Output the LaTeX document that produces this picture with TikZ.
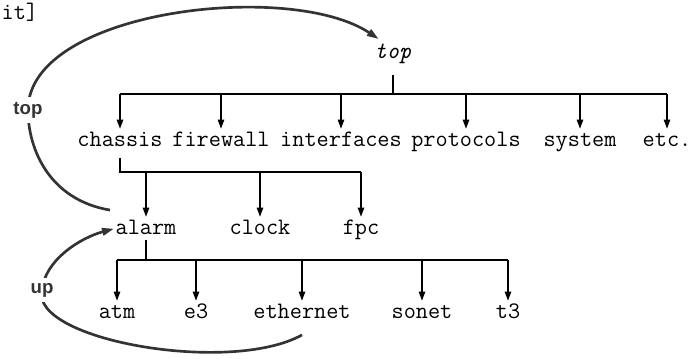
\documentclass[tikz,border=0pt]{standalone}
\usepackage{fontspec}
\setsansfont{Liberation Sans}
\usetikzlibrary{calc}
\usetikzlibrary{arrows.meta}
\newcommand{\codefont}{\ttfamily\fontsize{17.7}{20}\selectfont}
\tikzset{
    mono/.style={font=\codefont, inner sep=1pt, anchor=base, text height=11.5pt, text depth=3.5pt},
    lbl/.style={font=\sffamily\bfseries\fontsize{14}{16}\selectfont, fill=white, inner sep=4pt},
    bar/.style={line width=2.2pt, line join=miter},
    arr/.style={line width=1.6pt, -{Triangle[length=7pt,width=4.5pt]}},
    jump/.style={line width=2pt, black!80, -{Triangle[length=9pt,width=5.5pt]}}
}

\begin{document}
\begin{tikzpicture}[x=0.75pt,y=-0.75pt]
        \useasboundingbox (0,0) rectangle (693,358);
        \node[mono, anchor=base west] (cut) at (0,19) {it]};
        \node[mono, font=\codefont\itshape] (root) at (393,58) {top};
        %first level
        \node[mono] (chassis) at (120,146) {chassis};
        \node[mono] (firewall) at (221,146) {firewall};
        \node[mono] (interfaces) at (341,146) {interfaces};
        \node[mono] (protocols) at (466,146) {protocols};
        \node[mono] (system) at (580,146) {system};
        \node[mono] (etc) at (667,146) {etc.};
        %chassis
        \node[mono] (alarm) at (146,234) {alarm};
        \node[mono] (clock) at (260,234) {clock};
        \node[mono] (fpc) at (361,234) {fpc};
        %alarm
        \node[mono] (atm) at (117,318) {atm};
        \node[mono] (e3) at (196,318) {e3};
        \node[mono] (ethernet) at (302,318) {ethernet};
        \node[mono] (sonet) at (422,318) {sonet};
        \node[mono] (t3) at (508,318) {t3};

        \coordinate (b1) at (0,94);
        \coordinate (b2) at (0,172);
        \coordinate (b3) at (0,260);
        \draw[bar] ([yshift=-8pt]root.south) -- (root.south |- b1);
        \draw[bar] (chassis.north |- b1) -- (etc.north |- b1);
        \foreach \child in {chassis,firewall,interfaces,protocols,system,etc}
            \draw[arr] (\child.north |- b1) -- (\child.north);
        \draw[bar] ([yshift=-4pt]chassis.south) -- (chassis.south |- b2) -- (fpc.north |- b2);
        \foreach \child in {alarm,clock,fpc}
            \draw[arr] (\child.north |- b2) -- (\child.north);
        \draw[bar] (alarm.south) -- (alarm.south |- b3);
        \draw[bar] (atm.north |- b3) -- (t3.north |- b3);
        \foreach \child in {atm,e3,ethernet,sonet,t3}
            \draw[arr] (\child.north |- b3) -- (\child.north);

        %moves
        \draw[jump] ([shift={(-4,-7)}]alarm.north west) .. controls (50,200) and (28,150) .. (28,110) node[lbl] {top}
            .. controls (28,10) and (290,-20) .. ([shift={(6,-2)}]root.north west);
        \draw[jump] ([yshift=-8pt]ethernet.south) .. controls (230,375) and (30,340) .. (42,290) node[lbl] {up}
            .. controls (45,260) and (80,238) .. (alarm.west);
    \end{tikzpicture}
\end{document}
